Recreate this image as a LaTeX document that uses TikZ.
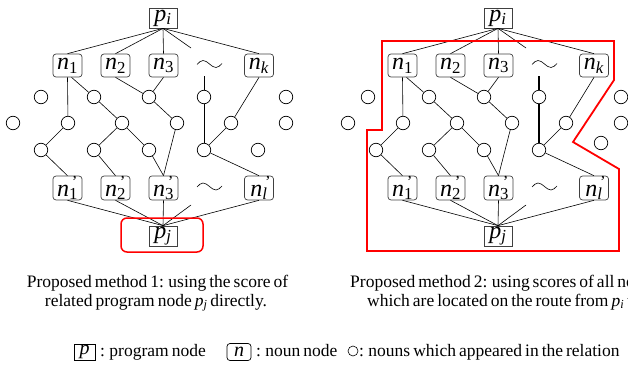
\documentclass[tikz,border=0pt]{standalone}
\usepackage{fontspec}
\setmainfont{Liberation Serif}[WordSpace={0.68}]
\newcommand\np[1]{\textit{n}\rlap{\textsuperscript{\,’}}\textsubscript{#1}}
\newcommand\mytree[2]{%
  \node[pbox] (#1pi) at (163,18) {\textit{p}\textsubscript{\textit{i}}};
  \node[nbox] (#1n1) at (67.5,65.5) {\textit{n}\textsubscript{1}};
  \node[nbox] (#1n2) at (115.5,65.5) {\textit{n}\textsubscript{2}};
  \node[nbox] (#1n3) at (163.5,65.5) {\textit{n}\textsubscript{3}};
  \node[nbox] (#1nk) at (259,65.5) {\textit{n}\textsubscript{\textit{k}}};
  \node[nbox] (#1m1) at (67.5,188) {\np{1}};
  \node[nbox] (#1m2) at (115.5,188) {\np{2}};
  \node[nbox] (#1m3) at (163.5,188) {\np{3}};
  \node[nbox] (#1ml) at (259,188) {\np{\textit{l}}};
  \node[pbox] (#1pj) at (163,236) {\textit{p}\textsubscript{\textit{j}}};
  \node[cn] (#1a2) at (94,97) {};
  \node[cn] (#1a3) at (149,97) {};
  \node[cn] (#1a4) at (204,97) {};
  \node[cn] (#1b1) at (68,123) {};
  \node[cn] (#1b2) at (122,123) {};
  \node[cn] (#1b3) at (177,123) {};
  \node[cn] (#1b4) at (231,123) {};
  \node[cn] (#1c1) at (41,150) {};
  \node[cn] (#1c2) at (94,150) {};
  \node[cn] (#1c3) at (149,150) {};
  \node[cn] (#1c4) at (204,150) {};
  \coordinate (#1t1) at (191,48);
  \coordinate (#1t2) at (191,205);
  \coordinate (#1v) at (204,76);
  \draw[edge] (#1pi.south) -- (#1n1.north);
  \draw[edge] (#1pi.south) -- (#1n2.north);
  \draw[edge] (#1pi.south) -- (#1n3.north);
  \draw[edge] (#1pi.south) -- (#1nk.north);
  \draw[edge] (#1pi.south) -- (#1t1);
  \draw[edge] (#1n1.south) -- (#1b1);
  \draw[edge] ([xshift=4pt]#1n1.south) -- (#1a2);
  \draw[edge] (#1a2) -- (#1b2);
  \draw[edge] (#1n2.south) -- (#1a3);
  \draw[edge] (#1n3.south) -- (#1a3);
  \draw[edge] (#1a3) -- (#1b3);
  \draw[edge] (#1nk.south) -- (#1b4);
  \draw[edge] (#1b4) -- (#1c4);
  \draw[#2] (#1v) -- (#1a4);
  \draw[#2] (#1a4) -- (#1c4);
  \draw[edge] (#1b1) -- (#1c1);
  \draw[edge] (#1b2) -- (#1c2);
  \draw[edge] (#1b2) -- (#1c3);
  \draw[edge] (#1c1) -- (#1m1.north);
  \draw[edge] (#1c2) -- (#1m2.north);
  \draw[edge] (#1c3) -- (#1m3.north);
  \draw[edge] (#1b3) -- (#1m3.north);
  \draw[edge] (#1c4) -- (#1ml.north);
  \draw[edge] (#1m1.south) -- (#1pj.north);
  \draw[edge] (#1m2.south) -- (#1pj.north);
  \draw[edge] (#1m3.south) -- (#1pj.north);
  \draw[edge] (#1ml.south) -- (#1pj.north);
  \draw[edge] (#1pj.north) -- (#1t2);
  \draw[edge] (197,64.5) sin (203,60.5) cos (209.5,64) sin (216,67.5) cos (222,63.5);
  \draw[edge] (197,187) sin (203,183) cos (209.5,186.5) sin (216,190) cos (222,186);
}
\begin{document}
\begin{tikzpicture}[x=1pt,y=-1pt,
  pbox/.style={draw=black!75, line width=0.7pt, minimum width=28pt, minimum height=20pt, inner sep=0pt, font=\fontsize{24}{24}\selectfont},
  nbox/.style={draw=black!75, line width=0.7pt, rounded corners=3pt, minimum width=29pt, minimum height=23pt, inner sep=0pt, font=\fontsize{24}{24}\selectfont},
  cn/.style={circle, draw, line width=0.7pt, minimum size=13.5pt, inner sep=0pt},
  edge/.style={line width=0.6pt},
  thinv/.style={line width=0.7pt},
  thickv/.style={line width=1.7pt},
  redline/.style={red, line width=1.8pt},
  captext/.style={inner sep=0pt, font=\fontsize{17.5}{20}\selectfont}
]
\useasboundingbox (0,0) rectangle (628,364);
\clip (0,0) rectangle (628,364);
% left panel
\mytree{L}{thinv}
\node[cn] (Liso1) at (41,97) {};
\node[cn] (Liso2) at (286,97) {};
\node[cn] (Liso3) at (13,123) {};
\node[cn] (Liso4) at (286,123) {};
\node[cn] (Liso5) at (258,150) {};
\draw[red, line width=1.5pt, rounded corners=6pt] (121,218) rectangle (203,252);
% right panel
\begin{scope}[xshift=335pt]
\mytree{R}{thickv}
\end{scope}
\node[cn] (Riso1) at (368,97) {};
\node[cn] (Riso2) at (621,97) {};
\node[cn] (Riso3) at (348,123) {};
\node[cn] (Riso4) at (621,123) {};
\node[cn] (Riso5) at (601,143) {};
\draw[redline] (382,41) -- (614,41) -- (614,80) -- (573,142) -- (619,169) -- (619,251) -- (367,251) -- (367,130) -- (382,130) -- cycle;
% captions
\node[captext, anchor=base] (cap1a) at (157.5,287) {Proposed method 1: using the score of};
\node[captext, anchor=base] (cap1b) at (156,306) {related program node \textit{p}\textsubscript{\textit{j}} directly.};
\node[captext, anchor=base west] (cap2a) at (350,287) {Proposed method 2: using scores of all nodes};
\node[captext, anchor=base west] (cap2b) at (367,306) {which are located on the route from \textit{p}\textsubscript{\textit{i}} to \textit{p}\textsubscript{\textit{j}}};
% legend
\node[draw, line width=0.7pt, minimum width=21pt, minimum height=16pt, inner sep=0pt, font=\fontsize{20}{20}\selectfont\itshape] (lp) at (84.5,352) {p};
\node[captext, anchor=base west] (lpt) at (100,356) {: program node};
\node[draw, line width=0.7pt, rounded corners=3pt, minimum width=24pt, minimum height=17pt, inner sep=0pt, font=\fontsize{20}{20}\selectfont\itshape] (ln) at (239,352) {n};
\node[captext, anchor=base west] (lnt) at (256,356) {: noun node};
\node[circle, draw, line width=0.6pt, minimum size=10pt, inner sep=0pt] (lc) at (353,351) {};
\node[captext, anchor=base west] (lct) at (359,356) {: nouns which appeared in the relation};
\end{tikzpicture}
\end{document}
